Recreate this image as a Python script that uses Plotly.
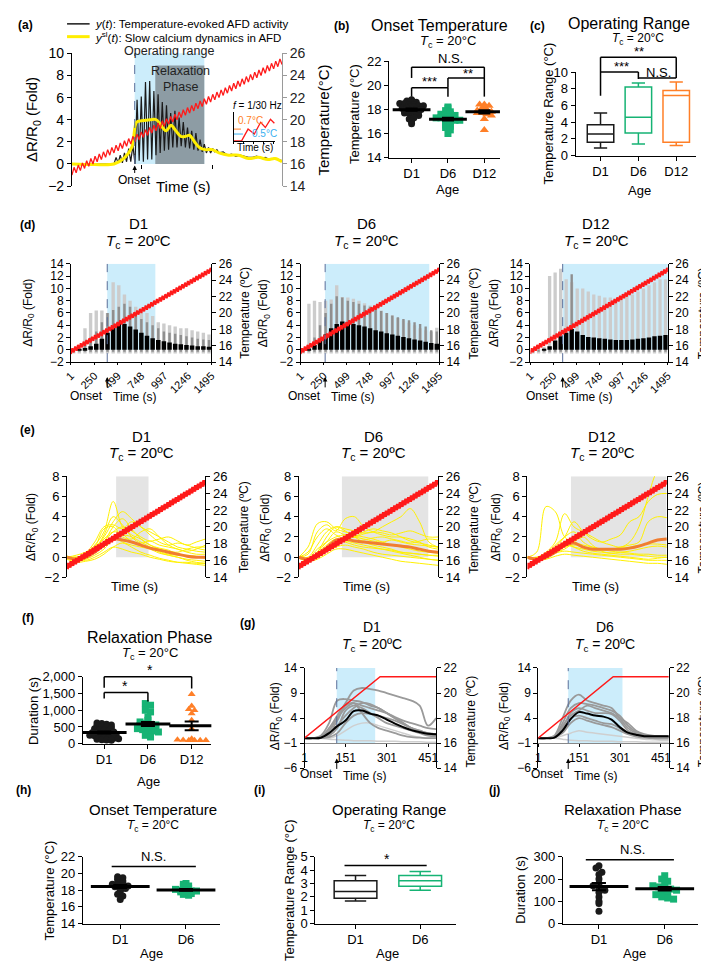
import numpy as np
import plotly.graph_objects as go

W, H = 709, 961
FONT = "Arial, Liberation Sans, DejaVu Sans, sans-serif"

# ======================= DATA =======================
# shared temperature protocol (ramp with 1/30 Hz oscillation), sampled every 15 s
t_ramp = list(range(0, 1501, 15))
temp_ramp = [15.0, 15.7, 15.2, 15.9, 15.4, 16.1, 15.6, 16.3, 15.8, 16.5, 16.0, 16.7, 16.2, 16.9, 16.4, 17.1,
             16.6, 17.3, 16.8, 17.5, 17.0, 17.7, 17.2, 17.9, 17.4, 18.1, 17.6, 18.3, 17.8, 18.5, 18.0, 18.7,
             18.2, 18.9, 18.4, 19.1, 18.6, 19.3, 18.8, 19.5, 19.0, 19.7, 19.2, 19.9, 19.4, 20.1, 19.6, 20.3,
             19.8, 20.5, 20.0, 20.7, 20.2, 20.9, 20.4, 21.1, 20.6, 21.3, 20.8, 21.5, 21.0, 21.7, 21.2, 21.9,
             21.4, 22.1, 21.6, 22.3, 21.8, 22.5, 22.0, 22.7, 22.2, 22.9, 22.4, 23.1, 22.6, 23.3, 22.8, 23.5,
             23.0, 23.7, 23.2, 23.9, 23.4, 24.1, 23.6, 24.3, 23.8, 24.5, 24.0, 24.7, 24.2, 24.9, 24.4, 25.1,
             24.6, 25.3, 24.8, 25.5, 25.0]

# (a)
a_black_t = [0, 150, 300,
             315, 330, 345, 360, 375, 390, 405, 420, 435, 450, 465, 480, 495, 510, 525, 540, 555, 570,
             585, 600, 615, 630, 645, 660, 675, 690, 705, 720, 735, 750, 765, 780, 795, 810, 825, 840,
             855, 870, 885, 900, 915, 930, 945, 960, 975, 990, 1005, 1020, 1035, 1050,
             1080, 1110, 1140, 1170, 1200, 1230, 1260, 1290, 1320, 1350, 1380, 1410, 1440, 1470, 1500]
a_black_y = [0.0, 0.0, 0.0,
             0.6, 0.1, 0.8, 0.1, 1.0, 0.2, 1.4, 0.2, 1.7, 0.0, 5.8, 0.3, 6.1, 0.2, 7.4, 0.4, 7.5, 0.4,
             6.6, 0.8, 6.3, 1.0, 5.6, 1.2, 5.3, 1.3, 4.6, 1.5, 4.8, 1.5, 4.2, 1.6, 3.8, 1.5, 3.3, 1.4,
             3.0, 1.3, 2.8, 1.2, 2.2, 1.1, 1.8, 1.0, 1.5, 1.0, 1.4, 1.1, 1.3, 1.0,
             1.1, 0.8, 0.9, 0.7, 0.8, 0.7, 0.6, 0.6, 0.7, 0.5, 0.6, 0.4, 0.5, 0.4, 0.3]
a_yellow_t = [0, 161, 301, 371, 427, 462, 497, 560, 602, 672, 707, 742, 777, 812, 840, 875, 910, 952,
              1001, 1050, 1120, 1190, 1260, 1330, 1400, 1450, 1500]
a_yellow_y = [0.0, -0.05, 0.0, 0.5, 1.5, 3.8, 3.9, 4.0, 4.0, 3.0, 3.5, 3.0, 2.5, 2.5, 2.6, 2.0, 1.5, 1.3,
              1.3, 1.0, 0.8, 0.8, 0.5, 0.6, 0.4, 0.5, 0.2]
a_onset, a_relax_start, a_band_end = 448, 595, 945
inset_t = [0, 1.95, 3.6, 5.2, 6.8, 8.0, 9.3, 10.3]
inset_y = [0, 0, 1.24, 0.72, 1.96, 1.41, 2.27, 1.85]

# (b) onset temperature
b_d1 = [18.8, 18.7, 18.7, 18.6, 18.5, 18.5, 18.4, 18.4, 18.3, 18.3, 18.2, 18.2, 18.1, 18.1, 18.0,
        18.0, 18.0, 17.9, 17.9, 17.8, 17.8, 17.7, 17.7, 17.6, 17.5, 17.4, 17.2, 17.0, 16.8, 17.3]
b_d6 = [18.2, 18.1, 17.9, 17.8, 17.6, 17.5, 17.4, 17.3, 17.3, 17.2, 17.2, 17.1, 17.1, 17.0, 17.0,
        16.9, 16.8, 16.7, 16.6, 16.5, 16.3, 16.0, 17.6, 17.5]
b_d12 = [18.4, 18.4, 18.3, 18.2, 18.1, 18.0, 17.9, 17.9, 17.8, 17.8, 17.7, 17.7, 17.6, 17.5, 17.2, 16.3]

# (c) operating range boxes (D1, D6, D12)
c_low = [0.9, 1.4, 1.2]
c_q1 = [1.6, 2.7, 1.6]
c_med = [2.6, 4.6, 7.2]
c_q3 = [3.7, 8.2, 7.8]
c_high = [5.1, 8.7, 8.8]

# (d) responses sampled every 60 s (peak envelopes)
t_d = list(range(30, 1471, 60))
d1_light = [0.2, 0.5, 3.5, 6.0, 6.4, 6.4, 6.0, 11.0, 10.5, 9.0, 8.0, 7.0, 6.5, 6.0, 5.5, 4.5, 4.3, 4.0, 3.8, 3.5, 3.5, 3.2, 3.0, 2.8, 2.5]
d1_dark = [0.1, 0.2, 0.8, 2.0, 3.0, 4.5, 6.0, 6.5, 7.0, 7.5, 7.0, 6.0, 5.0, 4.5, 4.0, 3.5, 3.0, 2.8, 2.6, 2.4, 2.2, 2.0, 1.8, 1.7, 1.6]
d1_black = [0.0, 0.1, 0.3, 0.6, 1.0, 1.8, 2.8, 3.6, 4.2, 4.2, 3.8, 3.3, 2.8, 2.3, 1.9, 1.6, 1.4, 1.2, 1.0, 0.9, 0.8, 0.7, 0.6, 0.6, 0.5]
d6_light = [0.3, 7.5, 8.0, 7.8, 8.0, 8.2, 10.5, 8.6, 8.5, 8.3, 8.0, 7.6, 7.2, 6.8, 6.4, 6.0, 5.6, 5.2, 4.8, 4.4, 4.0, 3.5, 3.2, 3.0, 3.6]
d6_dark = [0.0, 0.5, 2.0, 4.0, 6.0, 7.5, 8.7, 8.5, 8.0, 7.8, 7.5, 7.2, 7.0, 6.6, 6.3, 6.0, 5.6, 5.3, 5.0, 4.8, 4.5, 4.2, 3.8, 3.2, 3.0]
d6_black = [0.0, 0.2, 0.8, 1.5, 2.5, 3.5, 4.2, 4.6, 4.5, 4.2, 4.0, 3.8, 3.5, 3.2, 3.0, 2.7, 2.5, 2.3, 2.1, 1.9, 1.7, 1.5, 1.3, 1.1, 1.0]
d12_light = [0.2, 0.2, 0.5, 12.0, 12.6, 13.2, 11.5, 11.0, 10.0, 10.0, 9.5, 9.0, 8.8, 8.5, 8.5, 8.3, 8.5, 8.8, 9.0, 9.5, 10.0, 10.5, 11.0, 11.5, 11.5]
d12_dark = [0.0, 0.0, 0.2, 0.5, 0.8, 1.0, 1.2, 12.3, 1.5, 1.2, 1.0, 1.0, 1.0, 1.0, 1.0, 1.0, 1.0, 1.0, 1.0, 1.0, 1.0, 1.0, 1.2, 1.5, 1.5]
d12_black = [0.0, 0.0, 0.1, 0.6, 1.5, 2.2, 2.8, 3.4, 3.0, 2.4, 2.1, 2.0, 1.9, 1.8, 1.7, 1.6, 1.6, 1.6, 1.7, 1.8, 1.9, 2.0, 2.2, 2.3, 2.4]
d_onset = [387, 265, 352]
d_band_end = [899, 1389, 1495]

# (e) slow calcium traces sampled every 100 s
t_e = list(range(0, 1501, 100))
e1_traces = [
    [0.0, -0.1, 0.3, 1.2, 2.5, 5.5, 3.0, 2.2, 1.8, 1.2, 0.8, 0.6, 0.5, 0.8, 1.0, 1.0],
    [0.0, -0.3, 0.0, 0.8, 2.0, 3.5, 4.5, 3.8, 3.0, 2.5, 2.0, 1.5, 1.0, 0.8, 0.6, 0.5],
    [0.1, 0.0, 0.4, 1.5, 3.0, 3.2, 2.8, 3.5, 3.0, 2.2, 1.5, 1.2, 1.4, 1.2, 0.9, 0.7],
    [0.0, -0.2, 0.1, 0.5, 1.5, 2.5, 3.0, 2.6, 2.0, 1.6, 1.8, 2.0, 1.6, 1.2, 1.5, 1.8],
    [-0.1, -0.4, -0.2, 0.2, 0.8, 1.8, 2.2, 2.0, 1.5, 1.0, 0.5, 0.2, 0.0, -0.2, -0.3, -0.4],
    [0.0, -0.3, -0.1, 0.5, 1.2, 2.0, 1.5, 1.2, 1.0, 0.8, 0.4, 0.2, 0.0, -0.3, -0.5, -0.6],
    [0.0, 0.2, 0.5, 1.0, 1.8, 2.5, 2.3, 1.5, 1.2, 1.0, 0.6, 0.3, 0.2, 0.2, 0.1, 0.0],
    [-0.2, -0.5, -0.4, -0.2, 0.3, 1.0, 1.4, 1.0, 0.5, 0.2, -0.1, -0.3, -0.5, -0.6, -0.7, -0.8],
    [0.0, -0.1, 0.0, 0.6, 1.5, 3.0, 3.8, 2.8, 1.8, 1.2, 0.9, 0.7, 0.3, 0.1, 0.0, -0.1],
    [0.1, 0.0, 0.2, 0.8, 2.2, 4.0, 3.2, 2.0, 1.4, 1.6, 1.2, 1.0, 0.8, 0.5, 0.3, 0.3],
    [0.0, -0.2, -0.3, 0.0, 0.5, 1.0, 0.8, 0.5, 0.3, 0.0, -0.2, -0.4, -0.5, -0.5, -0.6, -0.6],
    [0.0, 0.0, 0.3, 1.0, 2.8, 3.0, 2.0, 1.8, 2.5, 2.8, 2.0, 1.2, 0.8, 0.6, 0.8, 1.2],
]
e1_mean = [0.0, -0.2, 0.0, 0.5, 1.2, 1.8, 1.7, 1.5, 1.2, 0.9, 0.7, 0.5, 0.3, 0.1, 0.0, 0.0]
e6_traces = [
    [0.0, 1.0, 3.3, 3.5, 2.8, 2.5, 2.2, 2.0, 1.8, 1.5, 1.2, 1.0, 0.8, 0.6, 0.5, 0.4],
    [0.0, 0.3, 2.5, 3.2, 2.6, 3.8, 4.0, 3.0, 2.5, 2.2, 2.0, 2.0, 1.8, 1.5, 1.0, 0.8],
    [0.0, -0.2, 0.5, 2.0, 3.0, 2.8, 2.6, 2.4, 2.5, 3.0, 3.5, 4.0, 4.8, 3.5, 1.5, 1.0],
    [0.1, -0.1, 0.8, 1.5, 2.0, 2.2, 2.0, 1.8, 1.6, 1.5, 1.7, 1.5, 1.3, 1.2, 1.1, 1.0],
    [0.0, -0.3, 0.2, 1.0, 1.5, 1.6, 1.4, 1.2, 1.0, 0.8, 0.6, 0.4, 0.2, 0.0, -0.2, -0.3],
    [0.0, -0.2, 0.5, 1.5, 2.5, 2.2, 2.0, 2.3, 2.5, 2.4, 2.2, 2.4, 2.6, 2.3, 2.0, 2.0],
    [-0.1, -0.4, -0.2, 0.3, 0.8, 0.8, 0.6, 0.4, 0.2, 0.0, -0.2, -0.4, -0.5, -0.6, -0.7, -0.8],
    [0.0, 0.0, 1.2, 2.5, 3.0, 2.6, 2.0, 1.5, 1.2, 1.0, 0.8, 0.5, 0.4, 0.3, 0.2, 0.1],
    [0.0, -0.3, 0.0, 0.6, 1.0, 1.2, 1.0, 0.8, 0.5, 0.3, 0.2, 0.1, 0.0, -0.1, -0.2, -0.3],
    [0.0, 0.5, 2.0, 2.8, 2.2, 1.8, 1.6, 1.7, 1.9, 2.0, 1.8, 1.6, 1.4, 1.6, 1.8, 1.7],
    [0.0, -0.2, 0.4, 1.2, 1.8, 1.5, 1.2, 1.0, 0.9, 0.8, 0.7, 0.5, 0.4, 0.3, 0.2, 0.2],
    [0.0, -0.1, 0.3, 1.0, 1.5, 1.8, 2.0, 2.5, 2.8, 2.6, 2.4, 2.0, 1.6, 1.4, 1.2, 1.0],
]
e6_mean = [0.0, -0.2, 0.1, 0.9, 1.7, 1.8, 1.6, 1.5, 1.4, 1.3, 1.2, 1.1, 1.0, 0.8, 0.6, 0.5]
e12_traces = [
    [0.0, 0.5, 5.0, 4.5, 2.0, 1.5, 1.2, 1.0, 0.8, 0.6, 0.5, 0.4, 0.3, 0.3, 0.2, 0.2],
    [0.0, 0.0, 0.5, 1.5, 4.3, 3.0, 2.5, 2.0, 1.5, 1.2, 1.0, 1.5, 3.0, 6.0, 8.5, 9.0],
    [0.0, -0.1, 0.2, 1.0, 2.0, 3.5, 2.5, 1.8, 1.5, 1.8, 2.2, 3.5, 4.0, 5.5, 6.2, 6.3],
    [0.0, -0.2, 0.3, 1.2, 2.0, 2.5, 1.5, 1.0, 0.8, 0.8, 1.0, 1.2, 1.5, 3.5, 4.0, 3.9],
    [0.0, -0.1, 0.2, 0.6, 1.0, 1.2, 1.0, 0.8, 0.7, 0.8, 0.9, 1.0, 1.2, 1.3, 1.3, 1.2],
    [0.0, -0.2, 0.0, 0.4, 0.6, 0.5, 0.4, 0.3, 0.2, 0.1, 0.0, -0.1, -0.2, -0.3, -0.3, -0.3],
    [-0.1, -0.3, -0.2, 0.1, 0.3, 0.2, 0.1, 0.0, -0.1, -0.2, -0.3, -0.4, -0.5, -0.6, -0.6, -0.7],
    [0.0, 0.0, 0.3, 0.8, 1.2, 1.0, 0.8, 0.6, 0.5, 0.4, 0.3, 0.3, 0.2, 0.1, 0.0, 0.0],
    [0.0, -0.1, 0.1, 0.5, 0.8, 1.5, 2.0, 1.2, 0.6, 0.4, 0.5, 0.6, 0.8, 1.0, 1.1, 1.0],
    [0.0, -0.2, 0.2, 0.8, 1.5, 1.0, 0.6, 0.4, 0.3, 0.2, 0.1, 0.0, -0.1, -0.2, -0.1, 0.0],
]
e12_mean = [0.0, -0.2, 0.0, 0.5, 1.2, 1.4, 1.0, 0.8, 0.8, 0.8, 0.8, 0.9, 1.1, 1.4, 1.7, 1.8]
e_band = [(532, 883), (465, 1394), (468, 1495)]

# (f) relaxation phase durations
f_d1 = [620, 600, 580, 560, 540, 520, 500, 480, 450, 420, 400, 380, 350, 330, 310, 300, 290, 280, 260,
        250, 240, 220, 200, 180, 160, 150, 130, 120, 110, 100]
f_d6 = [1200, 1150, 1000, 950, 800, 700, 650, 600, 580, 560, 540, 520, 500, 480, 450, 420, 400, 380,
        350, 300, 250, 200]
f_d12 = [1480, 1130, 1030, 1000, 900, 700, 450, 150, 120, 110, 100, 100, 100, 100]

# (g) sampled every 30 s
t_g = list(range(0, 481, 30))
g1_black = [0, 0, 0.1, 1.0, 2.4, 3.5, 5.4, 5.5, 4.9, 4.5, 3.7, 2.9, 2.2, 1.6, 1.2, 0.9, 0.8]
g1_grey = [
    [0, 0, 0.3, 2.0, 4.5, 7.0, 9.5, 10.0, 9.8, 9.5, 9.0, 8.5, 8.0, 7.5, 6.5, 2.5, 4.0],
    [0, 0, 0.5, 3.0, 7.5, 7.8, 7.5, 7.2, 6.5, 6.0, 5.0, 4.0, 3.0, 2.0, 1.5, 1.0, 0.8],
    [0, 0, 0.2, 1.5, 4.0, 6.0, 7.0, 6.5, 6.0, 5.5, 5.0, 4.2, 3.5, 3.0, 2.5, 2.0, 1.8],
    [0, 0, 0.1, 0.8, 2.5, 4.5, 6.0, 7.0, 6.8, 6.0, 5.0, 4.0, 3.0, 2.0, 1.2, 0.8, 0.5],
    [0, 0, 0, 0.5, 2.0, 5.5, 6.5, 6.0, 5.0, 4.0, 3.0, 2.5, 2.0, 1.5, 1.0, 0.5, 0.3],
    [0, 0, 0, 0.2, 1.0, 3.0, 4.5, 5.0, 4.8, 4.5, 4.0, 3.5, 2.8, 2.0, 1.5, 1.0, 0.8],
    [0, 0, 0.2, 1.0, 3.5, 6.5, 7.0, 5.0, 3.0, 2.0, 1.5, 1.0, 0.5, 0.2, 0.1, 0, 0],
]
g1_light = [
    [0, 0, 0, 0, 0.5, 1.5, 2.5, 3.0, 3.0, 2.5, 2.0, 1.5, 1.0, 0.5, 0.2, 0.0, 0.0],
    [0, 0, 0, -0.2, -0.3, -0.4, -0.5, -0.5, -0.5, -0.6, -0.6, -0.6, -0.7, -0.7, -0.7, -0.8, -0.8],
]
g6_black = [0, 0, 0.1, 1.5, 3.8, 5.2, 4.9, 4.5, 4.3, 3.7, 2.2, 1.1, 0.7, 0.4, 0.4, 0.4, 0.4]
g6_grey = [
    [0, 0, 0.5, 4.0, 7.5, 8.7, 7.5, 7.0, 6.5, 6.0, 4.0, 2.0, 1.0, 0.5, 0.3, 0.2, 0.2],
    [0, 0, 0.3, 3.0, 6.0, 7.0, 6.8, 6.5, 6.0, 5.5, 4.5, 2.5, 1.2, 0.6, 0.4, 0.3, 0.3],
    [0, 0, 0.2, 2.0, 5.0, 6.0, 5.5, 5.0, 5.0, 4.8, 3.5, 1.5, 0.8, 0.5, 0.4, 0.4, 0.3],
    [0, 0, 0.1, 1.5, 4.0, 4.5, 4.0, 3.5, 3.0, 2.8, 2.0, 1.0, 0.5, 0.3, 0.2, 0.2, 0.2],
    [0, 0, 0.3, 2.5, 4.5, 5.5, 6.5, 6.0, 5.5, 5.0, 4.0, 3.0, 1.5, 0.8, 0.5, 0.4, 0.3],
    [0, 0, 0.2, 1.0, 3.0, 4.0, 3.5, 3.0, 2.6, 2.2, 1.5, 0.8, 0.3, 0.1, 0.0, -0.1, -0.1],
]
g6_light = [
    [0, 0, 0, 0.5, 1.0, 1.5, 1.2, 1.0, 0.8, 0.6, 0.4, 0.2, 0.0, -0.2, -0.3, -0.4, -0.4],
    [0, 0, 0, -0.2, -0.4, -0.5, -0.5, -0.6, -0.6, -0.6, -0.7, -0.7, -0.7, -0.8, -0.8, -0.8, -0.8],
]
g_red_t = [0, 276, 480]
g_red = [16.4, 21.3, 21.3]
g_onset = [118, 111]
g_band_end = [258, 310]

# (h) (i) (j)
h_d1 = [19.6, 19.5, 19.3, 19.1, 18.9, 18.8, 18.7, 18.6, 18.5, 18.5, 18.4, 18.3, 18.2, 18.0, 17.8, 17.5, 17.3, 16.9]
h_d6 = [18.8, 18.7, 18.5, 18.4, 18.2, 18.1, 18.0, 18.0, 17.9, 17.9, 17.8, 17.7, 17.6, 17.5, 17.4]
i_low = [1.7, 2.5]
i_q1 = [1.9, 2.8]
i_med = [2.4, 3.2]
i_q3 = [3.2, 3.6]
i_high = [3.6, 3.9]
j_d1 = [260, 250, 230, 220, 200, 180, 170, 160, 150, 140, 120, 100, 90, 55]
j_d6 = [215, 200, 190, 180, 170, 165, 160, 155, 150, 145, 140, 130, 120, 115, 110]

# ======================= COLOURS =======================
BLACK = '#1a1a1a'
GREEN = '#16b374'
ORANGE = '#ff7f27'
RED = '#ff1a1a'
BLUEBAND = '#ccedfb'

# ======================= HELPERS =======================
fig = go.Figure()
L = dict(width=W, height=H, margin=dict(l=0, r=0, t=0, b=0), paper_bgcolor='white',
         plot_bgcolor='rgba(0,0,0,0)', showlegend=False, barmode='overlay', boxmode='overlay',
         font=dict(family=FONT, size=12, color='black'))
ANN, SHP = [], []
cnt = {'x': 0, 'y': 0}


def nid(k):
    cnt[k] += 1
    s = '' if cnt[k] == 1 else str(cnt[k])
    return k + s, k + 'axis' + s


BASE = dict(showline=True, linecolor='black', linewidth=1, ticks='outside', ticklen=4, tickwidth=1,
            tickcolor='black', showgrid=False, zeroline=False, fixedrange=True,
            tickfont=dict(size=12, color='black', family=FONT))


def axes(xd, yd, xkw=None, ykw=None, y2kw=None):
    xid, xn = nid('x')
    yid, yn = nid('y')
    xa = dict(BASE); xa.update(domain=[xd[0] / W, xd[1] / W], anchor=yid); xa.update(xkw or {})
    ya = dict(BASE); ya.update(domain=[1 - yd[1] / H, 1 - yd[0] / H], anchor=xid); ya.update(ykw or {})
    L[xn] = xa
    L[yn] = ya
    y2id = None
    if y2kw is not None:
        y2id, y2n = nid('y')
        y2 = dict(BASE); y2.update(overlaying=yid, side='right', anchor=xid); y2.update(y2kw)
        L[y2n] = y2
    return xid, yid, y2id


def T(x, y, s, size=12, color='black', angle=0, xa='center', ya='middle'):
    ANN.append(dict(x=x / W, y=1 - y / H, xref='paper', yref='paper', text=s, showarrow=False,
                    font=dict(size=size, color=color, family=FONT), textangle=angle,
                    xanchor=xa, yanchor=ya))


def seg(xref, x0, y0, x1, y1, w=1.5, color='black', dash='solid'):
    SHP.append(dict(type='line', xref=xref, yref='paper', x0=x0, x1=x1, y0=1 - y0 / H, y1=1 - y1 / H,
                    line=dict(color=color, width=w, dash=dash)))


def bracket(xref, xa, xb, ytop, ylegA, ylegB, w=1.5):
    seg(xref, xa, ylegA, xa, ytop, w)
    seg(xref, xa, ytop, xb, ytop, w)
    seg(xref, xb, ytop, xb, ylegB, w)


def rect(xref, yref, x0, x1, y0, y1, color):
    SHP.append(dict(type='rect', xref=xref, yref=yref, x0=x0, x1=x1, y0=y0, y1=y1,
                    fillcolor=color, line=dict(width=0), layer='below'))


def vdash(xref, yref, x, y0, y1):
    SHP.append(dict(type='line', xref=xref, yref=yref, x0=x, x1=x, y0=y0, y1=y1,
                    line=dict(color='#5a6f9a', width=1, dash='dash')))


def arrow_up(xref, x, ytip, ytail):
    ANN.append(dict(x=x, y=1 - ytip / H, xref=xref, yref='paper', text='', showarrow=True,
                    ax=0, ay=ytail - ytip, arrowhead=2, arrowsize=0.9, arrowwidth=1, arrowcolor='black'))


def swarm(vals, center, binw, dx):
    bins = {}
    for v in vals:
        bins.setdefault(round(v / binw), []).append(v)
    xs, ys = [], []
    for k, vs in bins.items():
        n = len(vs)
        for i, v in enumerate(vs):
            xs.append(center + (i - (n - 1) / 2) * dx)
            ys.append(v)
    return xs, ys


def dots(xid, yid, vals, center, binw, dx, symbol, color, size):
    xs, ys = swarm(vals, center, binw, dx)
    fig.add_trace(go.Scatter(x=xs, y=ys, mode='markers', xaxis=xid, yaxis=yid, cliponaxis=False,
                             marker=dict(symbol=symbol, color=color, size=size, line=dict(width=0))))


def meanbar(xid, yid, vals, center, size, cap=6):
    m = float(np.mean(vals))
    s = float(np.std(vals, ddof=1) / np.sqrt(len(vals)))
    fig.add_trace(go.Scatter(x=[center], y=[m], mode='markers', xaxis=xid, yaxis=yid,
                             marker=dict(symbol='line-ew', size=size, color='black',
                                         line=dict(width=3, color='black')),
                             error_y=dict(type='data', array=[s], color='black', thickness=2, width=cap)))


def box(xid, yid, pos, lo, q1, med, q3, hi, color, width):
    fig.add_trace(go.Box(x=[pos], q1=[q1], median=[med], q3=[q3], lowerfence=[lo], upperfence=[hi],
                         width=width, whiskerwidth=0.5, fillcolor='rgba(255,255,255,0)',
                         line=dict(color=color, width=1.5), boxpoints=False, xaxis=xid, yaxis=yid))


def line(xid, yid, x, y, color, width, shape='linear', dash='solid'):
    fig.add_trace(go.Scatter(x=x, y=y, mode='lines', xaxis=xid, yaxis=yid,
                             line=dict(color=color, width=width, shape=shape, dash=dash)))


def bars(xid, yid, x, vals, color, base, width):
    fig.add_trace(go.Bar(x=x, y=[v - base for v in vals], base=base, width=width, xaxis=xid, yaxis=yid,
                         marker=dict(color=color, line=dict(width=0))))


TC = "<i>T</i><sub>c</sub> = 20ºC"
TC2 = "<i>T</i><sub>c</sub> = 20°C"
DRR = "ΔR/R<sub>0</sub> (Fold)"

# ======================= PANEL (a) =======================
xa_, ya_, ya2_ = axes((57, 271), (38, 173),
                      xkw=dict(range=[0, 1500], tickvals=[500, 1000], showticklabels=False, showline=False,
                               anchor='free', position=1 - 150 / H),
                      ykw=dict(range=[-2, 10], dtick=2, tickfont=dict(size=14, family=FONT)),
                      y2kw=dict(range=[14, 26], dtick=2, linecolor='#9a9a9a', tickcolor='#9a9a9a',
                                tickfont=dict(size=14, color='#222', family=FONT)))
rect(xa_, ya_, a_onset, a_band_end, 0, 10.5, BLUEBAND)
rect(xa_, ya_, a_relax_start, a_band_end, 0, 8.9, '#8d9ca4')
vdash(xa_, ya_, a_onset, 0, 10.5)
line(xa_, ya_, a_black_t, a_black_y, BLACK, 1.2)
line(xa_, ya_, a_yellow_t, a_yellow_y, '#ffee00', 3, shape='spline')
line(xa_, ya2_, t_ramp, temp_ramp, RED, 1.3)
T(156, 36, "Operating range", 12.5, '#222')
T(168, 56, "Relaxation", 12.5, '#222')
T(168, 72, "Phase", 12.5, '#222')
T(121, 167, "Onset", 12)
arrow_up(xa_, a_onset, 152, 161)
T(170, 173, "Time (s)", 15)
T(17, 105, DRR, 15, angle=-90)
T(313, 106, "Temperature(°C)", 15, angle=-90)
T(10, 9, "<b>(a)</b>", 12)
# legend
seg('paper', 52 / W, 8, 75 / W, 8, 1.5, BLACK)
seg('paper', 52 / W, 21, 75 / W, 21, 3, '#ffee00')
T(78, 8, "<i>y</i>(<i>t</i>): Temperature-evoked AFD activity", 11.5, xa='left')
T(78, 21, "<i>y</i><sup>sl</sup>(<i>t</i>): Slow calcium dynamics in AFD", 11.5, xa='left')

# inset
xi_, yi_, _ = axes((222, 264), (98, 127),
                   xkw=dict(range=[0, 10.5], tickvals=[0, 2.5, 5, 7.5, 10], ticklen=2, showticklabels=False),
                   ykw=dict(range=[0, 3], ticks='', showticklabels=False))
line(xi_, yi_, inset_t, inset_y, RED, 1.3)
SHP.append(dict(type='line', xref=xi_, yref=yi_, x0=0, x1=4.2, y0=0.72, y1=0.72,
                line=dict(color='#3ab0f0', width=1, dash='dash')))
SHP.append(dict(type='line', xref=xi_, yref=yi_, x0=0, x1=1.8, y0=1.24, y1=1.24,
                line=dict(color=ORANGE, width=1, dash='dash')))
T(246, 91, "<i>f</i> = 1/30 Hz", 10)
T(224, 106, "0.7°C", 10, ORANGE, xa='left')
T(238, 119, "0.5°C", 10, '#3ab0f0', xa='left')
T(243, 134, "Time (s)", 10)

# ======================= PANEL (b) =======================
xb_, yb_, _ = axes((380, 493), (46, 144),
                   xkw=dict(range=[0.38, 3.43], tickvals=[1, 2, 3], ticktext=['D1', 'D6', 'D12'],
                            tickfont=dict(size=13, family=FONT)),
                   ykw=dict(range=[14, 22], dtick=2, tickfont=dict(size=13, family=FONT)))
dots(xb_, yb_, b_d1, 1, 0.2, 0.13, 'circle', BLACK, 7)
dots(xb_, yb_, b_d6, 2, 0.2, 0.13, 'square', GREEN, 7)
dots(xb_, yb_, b_d12, 3, 0.2, 0.13, 'triangle-up', ORANGE, 8)
for vals, c in [(b_d1, 1), (b_d6, 2), (b_d12, 3)]:
    meanbar(xb_, yb_, vals, c, 27, 6)
bracket(xb_, 1, 3, 52, 63, 63)
bracket(xb_, 1, 2, 73, 82, 82)
bracket(xb_, 2, 3, 63, 73, 82)
T(443, 43, "N.S.", 13)
T(421, 67, "***", 13)
T(460, 58, "**", 13)
T(431, 10, "Onset Temperature", 16)
T(440, 26, TC2, 13)
T(345, 100, "Temperature (°C)", 13, angle=-90)
T(440, 176, "Age", 13)
T(332, 10, "<b>(b)</b>", 12)

# ======================= PANEL (c) =======================
xc_, yc_, _ = axes((570, 693), (57, 142),
                   xkw=dict(range=[0.34, 3.53], tickvals=[1, 2, 3], ticktext=['D1', 'D6', 'D12'],
                            tickfont=dict(size=13, family=FONT)),
                   ykw=dict(range=[0, 10], dtick=2, tickfont=dict(size=13, family=FONT)))
for i, col in enumerate([BLACK, GREEN, ORANGE]):
    box(xc_, yc_, i + 1, c_low[i], c_q1[i], c_med[i], c_q3[i], c_high[i], col, 0.7)
bracket(xc_, 1, 2, 57, 81, 64)
bracket(xc_, 1, 3, 42, 57, 63)
seg(xc_, 2, 63, 3, 63, 1.5)
T(617, 51, "***", 13)
T(655, 57, "N.S.", 13)
T(635, 36, "**", 13)
T(624, 8, "Operating Range", 16)
T(634, 23, TC2, 12)
T(542, 99, "Temperature Range (°C)", 13, angle=-90)
T(635, 177, "Age", 13)
T(531, 10, "<b>(c)</b>", 12)

# ======================= PANEL (d) =======================
d_cols = [(56, 199), (290, 431), (524, 664)]
d_titles = ['D1', 'D6', 'D12']
d_data = [(d1_light, d1_dark, d1_black), (d6_light, d6_dark, d6_black), (d12_light, d12_dark, d12_black)]
d_left_title_x = [13, 253, 488]
d_right_title_x = [233, 467, 700]
for k in range(3):
    x0, x1 = d_cols[k]
    xid, yid, y2id = axes((x0, x1), (252, 352),
                          xkw=dict(range=[1, 1495], tickvals=[1, 250, 499, 748, 997, 1246, 1495],
                                   tickangle=-45, ticklen=2, tickfont=dict(size=11, family=FONT)),
                          ykw=dict(range=[-2, 14], dtick=2),
                          y2kw=dict(range=[14, 26], dtick=2))
    rect(xid, yid, d_onset[k], d_band_end[k], 0, 14, BLUEBAND)
    vdash(xid, yid, d_onset[k], -2, 14)
    light, dark, blk = d_data[k]
    bars(xid, yid, t_d, light, '#cccccc', -0.6, 36)
    bars(xid, yid, t_d, dark, '#8f8f8f', -0.3, 26)
    bars(xid, yid, t_d, blk, '#000000', 0, 48)
    line(xid, y2id, t_ramp, temp_ramp, RED, 2)
    cx = (x0 + x1) / 2
    T(cx - 3, 211, d_titles[k], 15)
    T(cx - 3, 229, TC, 15)
    T(d_left_title_x[k], 302, DRR, 12, angle=-90)
    T(d_right_title_x[k], 302, "Temperature (ºC)", 12, angle=-90)
    onset_px = x0 + (d_onset[k] - 1) / 1494 * (x1 - x0)
    T(onset_px - 2, 386, "Onset", 12, xa='right')
    T(onset_px + 4, 387, "Time (s)", 12, xa='left')
    arrow_up(xid, d_onset[k], 367, 379)
T(12, 213, "<b>(d)</b>", 12)

# ======================= PANEL (e) =======================
e_cols = [(52, 193), (288, 430), (521, 663)]
e_sets = [(e1_traces, e1_mean), (e6_traces, e6_mean), (e12_traces, e12_mean)]
for k in range(3):
    x0, x1 = e_cols[k]
    xid, yid, y2id = axes((x0, x1), (468, 571),
                          xkw=dict(range=[0, 1500], showline=False, ticks='', showticklabels=False),
                          ykw=dict(range=[-2, 8], dtick=2, tickfont=dict(size=13, family=FONT)),
                          y2kw=dict(range=[14, 26], dtick=2, tickfont=dict(size=13, family=FONT)))
    rect(xid, yid, e_band[k][0], e_band[k][1], 0, 8, '#e4e4e4')
    trs, mn = e_sets[k]
    for tr in trs:
        line(xid, yid, t_e, tr, '#fff000', 1, shape='spline')
    line(xid, yid, t_e, mn, '#f07d30', 3, shape='spline')
    line(xid, y2id, t_ramp, temp_ramp, RED, 3.5)
    cx = (x0 + x1) / 2
    T(cx + 5, 428, d_titles[k], 15)
    T(cx + 5, 445, TC, 15)
    T(cx - 2, 580, "Time (s)", 13)
    T([17, 255, 490][k], 520, DRR, 12, angle=-90)
    T([233, 467, 700][k], 520, "Temperature (ºC)", 12, angle=-90)
T(12, 421, "<b>(e)</b>", 12)

# ======================= PANEL (f) =======================
xf_, yf_, _ = axes((68, 199), (672, 740),
                   xkw=dict(range=[0.51, 3.45], tickvals=[1, 2, 3], ticktext=['D1', 'D6', 'D12'],
                            tickfont=dict(size=13, family=FONT)),
                   ykw=dict(range=[0, 2000], tickvals=[0, 500, 1000, 1500, 2000],
                            ticktext=['0', '500', '1,000', '1,500', '2,000'], tickfont=dict(size=13, family=FONT)))
dots(xf_, yf_, f_d1, 1, 100, 0.11, 'circle', BLACK, 7)
dots(xf_, yf_, f_d6, 2, 100, 0.12, 'square', GREEN, 7)
dots(xf_, yf_, f_d12, 3, 100, 0.13, 'triangle-up', ORANGE, 7)
for vals, c in [(f_d1, 1), (f_d6, 2), (f_d12, 3)]:
    meanbar(xf_, yf_, vals, c, 32, 7)
bracket(xf_, 1, 3, 672, 683, 684)
bracket(xf_, 1, 2, 688, 694, 697)
T(136, 665, "*", 14)
T(111, 681, "*", 14)
T(137, 632, "Relaxation Phase", 16)
T(137, 648, TC2, 13)
T(18, 707, "Duration (s)", 13, angle=-90)
T(135, 778, "Age", 13)
T(12, 612, "<b>(f)</b>", 12)

# ======================= PANEL (g) =======================
g_cols = [(294, 428), (532, 665)]
g_sets = [(g1_grey, g1_light, g1_black), (g6_grey, g6_light, g6_black)]
for k in range(2):
    x0, x1 = g_cols[k]
    xid, yid, y2id = axes((x0, x1), (663, 765),
                          xkw=dict(range=[1, 480], tickvals=[1, 151, 301, 451], ticklen=3,
                                   anchor='free', position=1 - 739.5 / H, linecolor='#888'),
                          ykw=dict(range=[-6, 14], tickvals=[-6, -1, 4, 9, 14]),
                          y2kw=dict(range=[14, 22], dtick=2))
    rect(xid, yid, g_onset[k], g_band_end[k], -1, 14, BLUEBAND)
    vdash(xid, yid, g_onset[k], -1, 14)
    grey, lite, blk = g_sets[k]
    for tr in lite:
        line(xid, yid, t_g, tr, '#cfcfcf', 1.5, shape='spline')
    for tr in grey:
        line(xid, yid, t_g, tr, '#9a9a9a', 1.8, shape='spline')
    line(xid, yid, t_g, blk, '#000000', 2, shape='spline')
    line(xid, y2id, g_red_t, g_red, RED, 1.5)
    cx = (x0 + x1) / 2
    T(cx + 2, 621, ['D1', 'D6'][k], 14)
    T(cx + 2, 640, TC, 14)
    onset_px = x0 + (g_onset[k] - 1) / 479 * (x1 - x0)
    T(onset_px - 2, 771, "Onset", 12, xa='right')
    T(onset_px + 4, 773, "Time (s)", 12, xa='left')
    arrow_up(xid, g_onset[k], 755, 767)
    T([265, 498][k], 712, DRR, 12, angle=-90)
    T([464, 700][k], 717, "Temperature (ºC)", 12, angle=-90)
T(236, 617, "<b>(g)</b>", 12)

# ======================= PANEL (h) =======================
xh_, yh_, _ = axes((68, 208), (855, 923),
                   xkw=dict(range=[0.43, 2.52], tickvals=[1, 2], ticktext=['D1', 'D6'], tickfont=dict(size=13, family=FONT)),
                   ykw=dict(range=[14, 22], dtick=2, tickfont=dict(size=13, family=FONT)))
dots(xh_, yh_, h_d1, 1, 0.3, 0.08, 'circle', BLACK, 7)
dots(xh_, yh_, h_d6, 2, 0.3, 0.08, 'square', GREEN, 7)
meanbar(xh_, yh_, h_d1, 1, 42, 7)
meanbar(xh_, yh_, h_d6, 2, 42, 7)
seg(xh_, 0.87, 865, 2.15, 865, 1.5)
T(140, 855, "N.S.", 13)
T(140, 807, "Onset Temperature", 15)
T(140, 824, TC2, 12)
T(34, 889, "Temperature (°C)", 13, angle=-90)
T(138, 953, "Age", 13)
T(8, 787, "<b>(h)</b>", 12)

# ======================= PANEL (i) =======================
xi2, yi2, _ = axes((305, 448), (855, 923),
                   xkw=dict(range=[0.38, 2.55], tickvals=[1, 2], ticktext=['D1', 'D6'], tickfont=dict(size=13, family=FONT)),
                   ykw=dict(range=[0, 5], dtick=1, tickfont=dict(size=13, family=FONT)))
box(xi2, yi2, 1, i_low[0], i_q1[0], i_med[0], i_q3[0], i_high[0], BLACK, 0.66)
box(xi2, yi2, 2, i_low[1], i_q1[1], i_med[1], i_q3[1], i_high[1], GREEN, 0.66)
seg(xi2, 0.83, 864, 2.1, 864, 1.5)
T(378, 857, "*", 14)
T(380, 807, "Operating Range", 15)
T(380, 824, TC2, 12)
T(278, 889, "Temperature Range (°C)", 13, angle=-90)
T(378, 953, "Age", 13)
T(248, 787, "<b>(i)</b>", 12)

# ======================= PANEL (j) =======================
xj_, yj_, _ = axes((557, 695), (855, 923),
                   xkw=dict(range=[0.45, 2.51], tickvals=[1, 2], ticktext=['D1', 'D6'], tickfont=dict(size=13, family=FONT)),
                   ykw=dict(range=[0, 300], dtick=100, tickfont=dict(size=13, family=FONT)))
dots(xj_, yj_, j_d1, 1, 20, 0.09, 'circle', BLACK, 7)
dots(xj_, yj_, j_d6, 2, 20, 0.09, 'square', GREEN, 7)
meanbar(xj_, yj_, j_d1, 1, 42, 7)
meanbar(xj_, yj_, j_d6, 2, 42, 7)
seg(xj_, 0.8, 858, 2.14, 858, 1.5)
T(628, 848, "N.S.", 13)
T(618, 807, "Relaxation Phase", 15)
T(618, 824, TC2, 12)
T(514, 889, "Duration (s)", 13, angle=-90)
T(630, 953, "Age", 13)
T(487, 787, "<b>(j)</b>", 12)

L['annotations'] = ANN
L['shapes'] = SHP
fig.update_layout(**L)
fig.write_html("out.html")
